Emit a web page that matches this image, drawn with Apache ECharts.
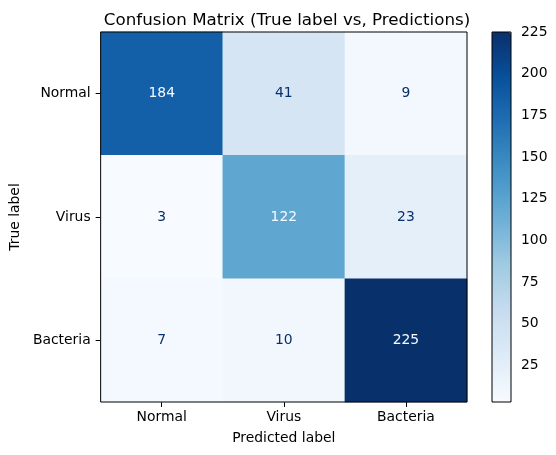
<!DOCTYPE html>
<html>
<head>
<meta charset="utf-8">
<script src="https://cdn.jsdelivr.net/npm/echarts@6/dist/echarts.min.js"></script>
<style>
  html, body { margin: 0; padding: 0; background: #fff; }
  #chart { width: 556px; height: 455px; }
</style>
</head>
<body>
<div id="chart"></div>
<script>
// 类别与数值
const labels = ["Normal", "Virus", "Bacteria"];
// 行 = 真实标签, 列 = 预测标签
const matrix = [
  [184, 41, 9],
  [3, 122, 23],
  [7, 10, 225]
];
const cbarTicks = [25, 50, 75, 100, 125, 150, 175, 200, 225];
const vMin = 3, vMax = 225;

// matplotlib Blues
const blues = ["#f7fbff", "#deebf7", "#c6dbef", "#9ecae1", "#6baed6", "#4292c6", "#2171b5", "#08519c", "#08306b"];

const font = "DejaVu Sans";
const fs = 13.9;
const thresh = (vMin + vMax) / 2;

let cells = [];
matrix.forEach((row, r) => {
  row.forEach((v, c) => {
    cells.push({
      value: [c, r, v],
      label: { color: v > thresh ? "#f7fbff" : "#08306b" }
    });
  });
});

let myChart = echarts.init(document.getElementById("chart"));
let option = {
  backgroundColor: "#fff",
  animation: false,
  textStyle: { fontFamily: font },
  title: {
    text: "Confusion Matrix (True label vs, Predictions)",
    left: 282,
    textAlign: "center",
    top: 7,
    textStyle: { fontFamily: font, fontSize: 16.7, fontWeight: "normal", color: "#000" }
  },
  grid: [
    { // 主图
      left: 97, top: 32, width: 370, height: 370,
      show: true, borderColor: "#000", borderWidth: 1, backgroundColor: "transparent", z: 10
    },
    { // 色条
      left: 492, top: 32, width: 19, height: 370,
      show: true, borderColor: "#000", borderWidth: 1, backgroundColor: "transparent", z: 10
    }
  ],
  visualMap: {
    type: "continuous",
    min: vMin,
    max: vMax,
    calculable: false,
    seriesIndex: 0,
    left: 492,
    top: 32,
    itemWidth: 19,
    itemHeight: 370,
    padding: 0,
    text: null,
    inRange: { color: blues }
  },
  xAxis: [
    {
      gridIndex: 0,
      type: "category",
      data: labels,
      name: "Predicted label",
      nameLocation: "middle",
      nameGap: 29,
      nameTextStyle: { fontFamily: font, fontSize: fs, color: "#000" },
      axisLine: { show: false },
      axisTick: { show: true, alignWithLabel: true, length: 5, lineStyle: { color: "#000" } },
      axisLabel: { fontFamily: font, fontSize: fs, color: "#000", margin: 8 },
      splitLine: { show: false }
    },
    {
      gridIndex: 1,
      type: "value",
      show: false
    }
  ],
  yAxis: [
    {
      gridIndex: 0,
      type: "category",
      data: labels,
      inverse: true,
      name: "True label",
      nameLocation: "middle",
      nameRotate: 90,
      nameGap: 77,
      nameTextStyle: { fontFamily: font, fontSize: fs, color: "#000" },
      axisLine: { show: false },
      axisTick: { show: true, alignWithLabel: true, length: 5, lineStyle: { color: "#000" } },
      axisLabel: { fontFamily: font, fontSize: fs, color: "#000", margin: 10 },
      splitLine: { show: false }
    },
    {
      gridIndex: 1,
      type: "value",
      position: "right",
      min: vMin,
      max: vMax,
      axisLine: { show: false },
      axisTick: { show: true, length: 5, customValues: cbarTicks, lineStyle: { color: "#000" } },
      axisLabel: { fontFamily: font, fontSize: fs, color: "#000", margin: 10, customValues: cbarTicks },
      splitLine: { show: false }
    }
  ],
  series: [
    {
      type: "heatmap",
      xAxisIndex: 0,
      yAxisIndex: 0,
      data: cells,
      label: { show: true, fontFamily: font, fontSize: fs },
      itemStyle: { borderWidth: 0 },
      emphasis: { disabled: true }
    }
  ]
};
myChart.setOption(option);
</script>
</body>
</html>
